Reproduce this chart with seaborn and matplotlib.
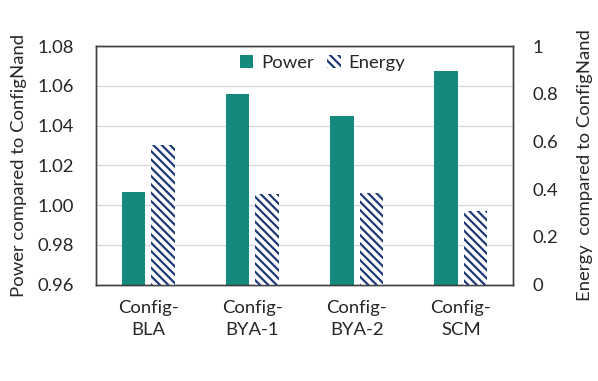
import matplotlib
matplotlib.use("Agg")
import matplotlib.pyplot as plt
import seaborn as sns
import pandas as pd
from matplotlib.patches import Patch

categories = ["Config-\nBLA", "Config-\nBYA-1", "Config-\nBYA-2", "Config-\nSCM"]
power = [1.0067, 1.0561, 1.045, 1.0675]
energy = [0.583, 0.381, 0.384, 0.307]
left_ticks = [0.96, 0.98, 1.00, 1.02, 1.04, 1.06, 1.08]
right_ticks = [0, 0.2, 0.4, 0.6, 0.8, 1.0]

sns.set_theme(style="white")
plt.rcParams['font.family'] = ['Lato', 'DejaVu Sans']
plt.rcParams['hatch.linewidth'] = 1.6
plt.rcParams['hatch.color'] = '#1F3A78'

teal = '#148A7C'
navy = '#1F3A78'
fs = 13.3

W, H = 598, 381
fig = plt.figure(figsize=(W / 100, H / 100), dpi=100)
L, R, T, B = 96, 513, 46, 284.5
ax = fig.add_axes([L / W, (H - B) / H, (R - L) / W, (B - T) / H])
ax2 = ax.twinx()

df_p = pd.DataFrame({"cat": categories, "val": power, "series": "Power"})
df_e = pd.DataFrame({"cat": categories, "val": energy, "series": "Energy"})
hue_order = ["Power", "Energy"]
pal = {"Power": teal, "Energy": "white"}

sns.barplot(data=df_p, x="cat", y="val", hue="series", hue_order=hue_order,
            palette=pal, order=categories, width=0.57, gap=0.21, ax=ax,
            legend=False, saturation=1, linewidth=0, dodge=True)
sns.barplot(data=df_e, x="cat", y="val", hue="series", hue_order=hue_order,
            palette=pal, order=categories, width=0.57, gap=0.21, ax=ax2,
            legend=False, saturation=1, linewidth=0, dodge=True)
for p in ax2.patches:
    p.set_hatch('\\\\\\\\')
    p.set_edgecolor(navy)
    p.set_linewidth(0)

ax.set_ylim(0.96, 1.08)
ax.set_yticks(left_ticks)
ax.set_yticklabels([f"{t:.2f}" for t in left_ticks], fontsize=fs)
ax2.set_ylim(0, 1)
ax2.set_yticks(right_ticks)
ax2.set_yticklabels(["0", "0.2", "0.4", "0.6", "0.8", "1"], fontsize=fs)
ax.set_xlim(-0.5, 3.5)
ax.set_xticks(range(len(categories)))
ax.set_xticklabels(categories, fontsize=fs, linespacing=1.5)
ax.set_xlabel("")
ax.set_ylabel("Power compared to ConfigNand", fontsize=fs)
ax2.set_ylabel("Energy  compared to ConfigNand", fontsize=fs)
ax.yaxis.set_label_coords((27 - L) / (R - L), 0.5)
ax2.yaxis.set_label_coords((577 - L) / (R - L), 0.5)
ax.tick_params(axis='y', length=0, pad=16)
ax2.tick_params(axis='y', length=0, pad=14)
ax.tick_params(axis='x', length=0, pad=11)

ax.grid(axis='y', color='#D9D9D9', linewidth=1)
ax.set_axisbelow(True)
for a in (ax, ax2):
    for s in a.spines.values():
        s.set_visible(True)
        s.set_color('#404040')
        s.set_linewidth(1)

handles = [Patch(facecolor=teal, edgecolor='none', label='Power'),
           Patch(facecolor='white', edgecolor=navy, hatch='\\\\\\\\', linewidth=0, label='Energy')]
ax2.legend(handles=handles, loc='center', bbox_to_anchor=((322.5 - L) / (R - L), (B - 63) / (B - T)),
           ncol=2, frameon=False, fontsize=fs, handlelength=0.75, handleheight=0.7,
           handletextpad=0.4, columnspacing=0.75, borderpad=0)

fig.savefig("out.png", dpi=100)
